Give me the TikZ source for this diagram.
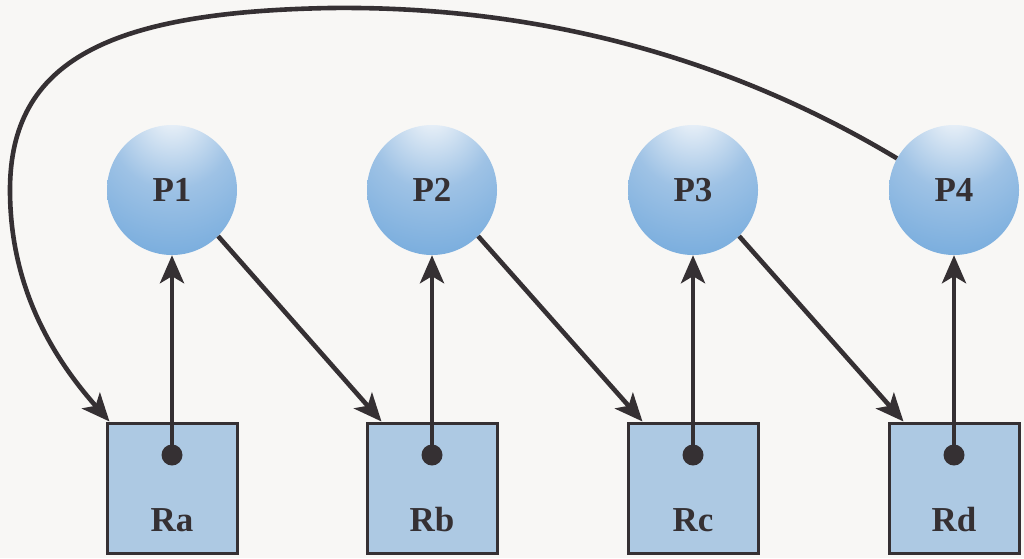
\documentclass[tikz,border=0pt]{standalone}
\usepackage{fontspec}
\setmainfont{Liberation Serif}
\usetikzlibrary{arrows.meta}

\definecolor{bgcol}{HTML}{F8F7F5}
\definecolor{boxcol}{HTML}{ADC9E3}
\definecolor{inkcol}{HTML}{353033}
\definecolor{ballhi}{HTML}{EAF1F8}
\definecolor{ballmid}{HTML}{9EC2E5}
\definecolor{balllow}{HTML}{72A9DC}
\definecolor{balledge}{HTML}{5394D2}

\pgfdeclareradialshading{procball}{\pgfpoint{0bp}{32bp}}{%
  color(0bp)=(ballhi); color(4bp)=(ballhi); color(24bp)=(ballmid);
  color(48bp)=(balllow); color(72bp)=(balledge); color(100bp)=(balledge)}

\tikzset{
  proc/.style={circle, minimum size=130pt, inner sep=0pt, shading=procball,
    font=\fontsize{35}{40}\selectfont\bfseries, text=inkcol},
  res/.style={rectangle, minimum size=130pt, inner sep=0pt, fill=boxcol,
    draw=inkcol, line width=3pt},
  lbl/.style={font=\fontsize{35}{40}\selectfont\bfseries, text=inkcol, inner sep=0pt},
  arr/.style={-{Stealth[length=28pt,width=24pt,inset=7pt]}, line width=4.6pt, draw=inkcol}
}

\begin{document}
\begin{tikzpicture}[x=1pt, y=-1pt]
                    % 背景
                    \useasboundingbox (0, 0) rectangle (1024, 558);
                    \fill[bgcol] (0, 0) rectangle (1024, 558);

                    % プロセス
                    \node[proc] (P1) at (172, 190) {P1};
                    \node[proc] (P2) at (432, 190) {P2};
                    \node[proc] (P3) at (693, 190) {P3};
                    \node[proc] (P4) at (954, 190) {P4};

                    % 資源
                    \node[res] (Ra) at (172, 488) {};
                    \node[res] (Rb) at (432, 488) {};
                    \node[res] (Rc) at (693, 488) {};
                    \node[res] (Rd) at (954, 488) {};
                    \node[lbl] (la) at (172, 520) {Ra};
                    \node[lbl] (lb) at (432, 520) {Rb};
                    \node[lbl] (lc) at (693, 520) {Rc};
                    \node[lbl] (ld) at (954, 520) {Rd};

                    % 割り当て
                    \coordinate (da) at (172, 455);
                    \coordinate (db) at (432, 455);
                    \coordinate (dc) at (693, 455);
                    \coordinate (dd) at (954, 455);
                    \draw[arr] (da)--(P1);
                    \draw[arr] (db)--(P2);
                    \draw[arr] (dc)--(P3);
                    \draw[arr] (dd)--(P4);
                    \fill[inkcol] (da) circle (10.5);
                    \fill[inkcol] (db) circle (10.5);
                    \fill[inkcol] (dc) circle (10.5);
                    \fill[inkcol] (dd) circle (10.5);

                    % 要求
                    \draw[arr] (P1.-45)--([xshift=16pt]Rb.north west);
                    \draw[arr] (P2.-45)--([xshift=16pt]Rc.north west);
                    \draw[arr] (P3.-45)--([xshift=16pt]Rd.north west);
                    \draw[arr] (P4.151) .. controls (700, 40) and (500, 6) .. (330, 8)
                        .. controls (110, 12) and (10, 60) .. (10, 190)
                        .. controls (10, 290) and (55, 360) .. ([xshift=4pt]Ra.north west);

                \end{tikzpicture}
\end{document}
